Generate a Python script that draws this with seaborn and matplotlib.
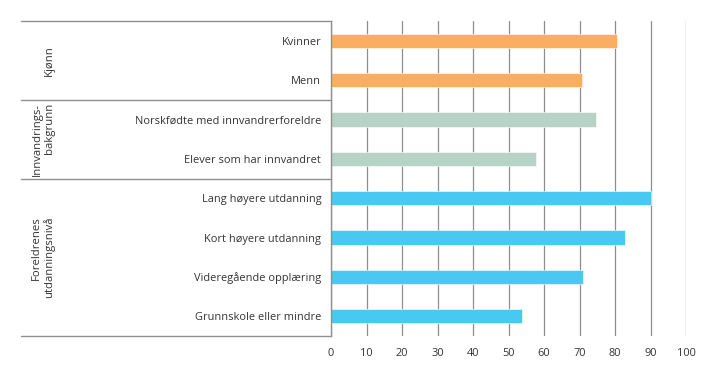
import pandas as pd
import seaborn as sns
import matplotlib.pyplot as plt

# Data lest av figuren
kategorier = ['Kvinner', 'Menn',
              'Norskfødte med innvandrerforeldre', 'Elever som har innvandret',
              'Lang høyere utdanning', 'Kort høyere utdanning',
              'Videregående opplæring', 'Grunnskole eller mindre']
verdier = [80.5, 70.7, 74.6, 57.7, 90.0, 82.9, 71.0, 53.9]
grupper = ['Kjønn', 'Kjønn',
           'Innvandrings-\nbakgrunn', 'Innvandrings-\nbakgrunn',
           'Foreldrenes\nutdanningsnivå', 'Foreldrenes\nutdanningsnivå',
           'Foreldrenes\nutdanningsnivå', 'Foreldrenes\nutdanningsnivå']
farger = {'Kjønn': '#FBAE5F',
          'Innvandrings-\nbakgrunn': '#B7D3C7',
          'Foreldrenes\nutdanningsnivå': '#49C8F2'}
xticks = list(range(0, 101, 10))

df = pd.DataFrame({'kategori': kategorier, 'verdi': verdier, 'gruppe': grupper})

sns.set_theme(style='white')
plt.rcParams['font.family'] = ['Open Sans', 'DejaVu Sans']
plt.rcParams['text.color'] = '#333333'
fs = 7.9

fig = plt.figure(figsize=(7.19, 3.83), dpi=100)
ax = fig.add_axes([331 / 719, 1 - 336 / 383, 355 / 719, 315 / 383])

# Rutenett
for t in xticks:
    ax.axvline(t, color='#8f8f8f', lw=0.9, zorder=0)

sns.barplot(data=df, x='verdi', y='kategori', hue='gruppe', palette=farger,
            dodge=False, width=0.36, legend=False, ax=ax, zorder=2,
            saturation=1, edgecolor='white', linewidth=0.4)

ax.set_xlim(0, 100)
ax.set_ylim(7.5, -0.5)
ax.set_xticks(xticks)
ax.set_xlabel('')
ax.set_ylabel('')
ax.tick_params(axis='x', length=0, pad=9, labelsize=fs, labelcolor='#333333')
ax.tick_params(axis='y', length=0, pad=7, labelsize=fs, labelcolor='#333333')

for s in ['top', 'right', 'bottom']:
    ax.spines[s].set_visible(False)
ax.spines['left'].set_color('#8f8f8f')
ax.spines['left'].set_linewidth(1.0)

# Tabell til venstre
trans = ax.get_yaxis_transform()
venstre = (21 - 331) / 355
for y in [-0.5, 1.5, 3.5, 7.5]:
    ax.plot([venstre, 0], [y, y], transform=trans, color='#8f8f8f',
            lw=1.0, clip_on=False)

grupper_unike = list(dict.fromkeys(grupper))
for g in grupper_unike:
    idx = [i for i, x in enumerate(grupper) if x == g]
    midt = (idx[0] + idx[-1]) / 2
    ax.text((55 - 331) / 355, midt, g, transform=trans, rotation=90,
            ha='right', va='center', fontsize=fs + 0.3, color='#333333',
            linespacing=1.1)

plt.savefig('out.png', dpi=100)
plt.close()
